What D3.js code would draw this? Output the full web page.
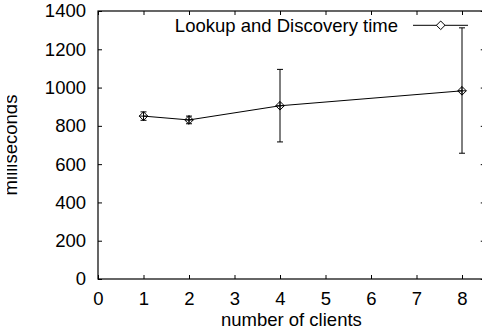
<!DOCTYPE html>
<html>
<head>
<meta charset="utf-8">
<script src="https://cdn.jsdelivr.net/npm/d3@7"></script>
<style>
  html, body { margin: 0; padding: 0; background: #fff; }
  svg { display: block; }
  text { font-family: "Liberation Sans", Arial, Helvetica, sans-serif; fill: #000; }
</style>
</head>
<body>
<svg id="chart" width="482" height="331"></svg>
<script>
// Lookup and discovery time versus number of clients (mean with error range)
const clients   = [1, 2, 4, 8];
const meanMs    = [851, 831, 905, 983];
const lowMs     = [829, 811, 716, 657];
const highMs    = [873, 851, 1095, 1312];
const xTicks    = [0, 1, 2, 3, 4, 5, 6, 7, 8];
const yTicks    = [0, 200, 400, 600, 800, 1000, 1200, 1400];
const seriesName = "Lookup and Discovery time";

const svg = d3.select("#chart");
const fontSize = 18.5;

const x = d3.scaleLinear().domain([0, 8.5]).range([98, 484.75]);
const y = d3.scaleLinear().domain([0, 1400]).range([279, 11]);

// frame
svg.append("rect")
  .attr("x", x(0)).attr("y", y(1400))
  .attr("width", x(8.5) - x(0)).attr("height", y(0) - y(1400))
  .attr("fill", "none").attr("stroke", "#000").attr("stroke-width", 1.2);

function styleAxis(g) {
  g.select(".domain").remove();
  g.selectAll(".tick line").attr("stroke", "#000");
  g.selectAll(".tick text").attr("font-size", fontSize).attr("font-family", null);
}

// left axis, ticks pointing inward
svg.append("g").attr("transform", `translate(${x(0)},0)`)
  .call(d3.axisLeft(y).tickValues(yTicks).tickFormat(d3.format("d"))
    .tickSizeInner(-4).tickSizeOuter(0).tickPadding(12))
  .call(styleAxis);

// right axis ticks (no labels)
svg.append("g").attr("transform", `translate(${x(8.5)},0)`)
  .call(d3.axisRight(y).tickValues(yTicks).tickSizeInner(-4).tickSizeOuter(0).tickFormat(""))
  .call(styleAxis);

// bottom axis
svg.append("g").attr("transform", `translate(0,${y(0)})`)
  .call(d3.axisBottom(x).tickValues(xTicks).tickFormat(d3.format("d"))
    .tickSizeInner(-4).tickSizeOuter(0).tickPadding(13))
  .call(styleAxis);

// top axis ticks (no labels)
svg.append("g").attr("transform", `translate(0,${y(1400)})`)
  .call(d3.axisTop(x).tickValues(xTicks).tickSizeInner(-4).tickSizeOuter(0).tickFormat(""))
  .call(styleAxis);

// axis titles
svg.append("text")
  .attr("x", (x(0) + x(8.5)) / 2).attr("y", 326)
  .attr("text-anchor", "middle").attr("font-size", fontSize)
  .text("number of clients");

// y title sits partly outside the drawable margin; keep only the part right of x=7
svg.append("clipPath").attr("id", "ytitle-clip")
  .append("rect").attr("x", 7).attr("y", 0).attr("width", 60).attr("height", 331);
svg.append("g").attr("clip-path", "url(#ytitle-clip)")
  .append("text")
  .attr("transform", "translate(17,145) rotate(-90)")
  .attr("text-anchor", "middle").attr("font-size", fontSize)
  .text("milliseconds");

const data = clients.map((c, i) => ({ c, m: meanMs[i], lo: lowMs[i], hi: highMs[i] }));

// connecting line
svg.append("path")
  .datum(data)
  .attr("fill", "none").attr("stroke", "#000").attr("stroke-width", 1)
  .attr("d", d3.line().x(d => x(d.c)).y(d => y(d.m)));

// error bars
const eb = svg.append("g").attr("stroke", "#000").attr("stroke-width", 1);
eb.selectAll("line.v").data(data).join("line")
  .attr("x1", d => x(d.c)).attr("x2", d => x(d.c))
  .attr("y1", d => y(d.lo)).attr("y2", d => y(d.hi));
eb.selectAll("line.top").data(data).join("line")
  .attr("x1", d => x(d.c) - 3).attr("x2", d => x(d.c) + 3)
  .attr("y1", d => y(d.hi)).attr("y2", d => y(d.hi));
eb.selectAll("line.bot").data(data).join("line")
  .attr("x1", d => x(d.c) - 3).attr("x2", d => x(d.c) + 3)
  .attr("y1", d => y(d.lo)).attr("y2", d => y(d.lo));

// diamond markers with a cross inside
const diamond = (cx, cy, r) => `M${cx},${cy - r}L${cx + r},${cy}L${cx},${cy + r}L${cx - r},${cy}Z`;
const marks = svg.append("g").attr("stroke", "#000").attr("stroke-width", 1).attr("fill", "none");
marks.selectAll("path").data(data).join("path")
  .attr("d", d => diamond(x(d.c), y(d.m), 4.3) +
    `M${x(d.c) - 4.3},${y(d.m)}H${x(d.c) + 4.3}M${x(d.c)},${y(d.m) - 4.3}V${y(d.m) + 4.3}`);

// key
const key = svg.append("g");
key.append("text")
  .attr("x", 398).attr("y", 31.5)
  .attr("text-anchor", "end").attr("font-size", fontSize)
  .text(seriesName);
key.append("line")
  .attr("x1", 413).attr("x2", 468).attr("y1", 25.3).attr("y2", 25.3)
  .attr("stroke", "#000").attr("stroke-width", 1);
key.append("path")
  .attr("d", diamond(440.7, 25.3, 4.3))
  .attr("fill", "#fff").attr("stroke", "#000").attr("stroke-width", 1);
</script>
</body>
</html>
